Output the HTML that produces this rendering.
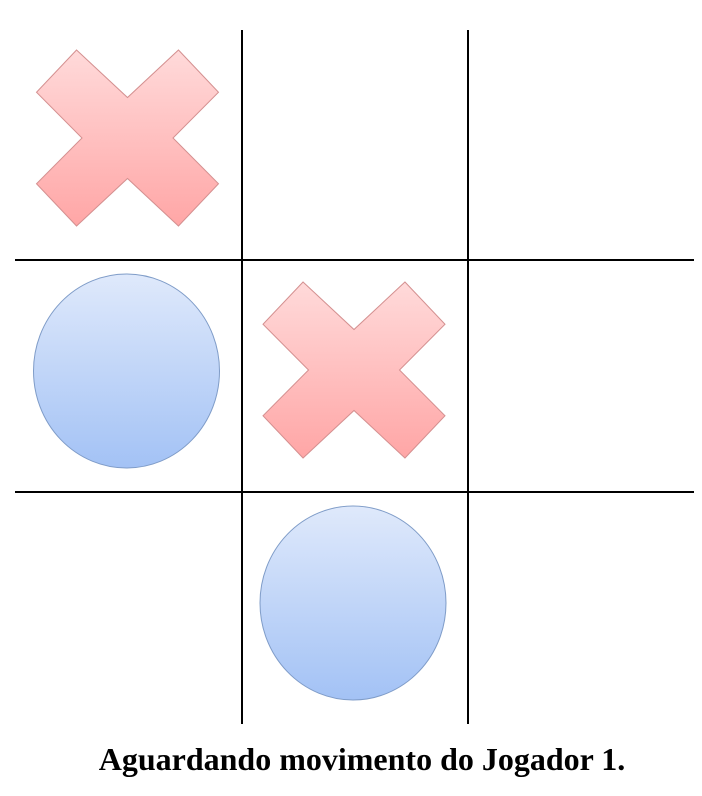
<!DOCTYPE html>
<html><head><meta charset="utf-8"><style>
html,body{margin:0;padding:0;background:#fff;width:702px;height:796px;overflow:hidden}
.t{position:absolute;left:0;width:724px;top:741px;text-align:center;font:bold 32px "Liberation Serif",serif;color:#000}
</style></head><body>
<svg width="702" height="796" style="position:absolute;left:0;top:0">
<defs>
<linearGradient id="gx" x1="0" y1="0" x2="0" y2="1"><stop offset="0" stop-color="#ffdada"/><stop offset="1" stop-color="#ffa6a6"/></linearGradient>
<linearGradient id="go" x1="0" y1="0" x2="0" y2="1"><stop offset="0" stop-color="#dfe9fb"/><stop offset="1" stop-color="#a3c2f5"/></linearGradient>
</defs>
<g stroke="#000" stroke-width="2">
<line x1="242" y1="30" x2="242" y2="724"/>
<line x1="468" y1="30" x2="468" y2="724"/>
<line x1="15" y1="260" x2="694" y2="260"/>
<line x1="15" y1="492" x2="694" y2="492"/>
</g>
<g id="marks"></g>
<rect x="15" y="30" width="227" height="230" fill="transparent"/>
<rect x="242" y="30" width="226" height="230" fill="transparent"/>
<rect x="468" y="30" width="226" height="230" fill="transparent"/>
<rect x="15" y="260" width="227" height="232" fill="transparent"/>
<rect x="242" y="260" width="226" height="232" fill="transparent"/>
<rect x="468" y="260" width="226" height="232" fill="transparent"/>
<rect x="15" y="492" width="227" height="232" fill="transparent"/>
<rect x="242" y="492" width="226" height="232" fill="transparent"/>
<rect x="468" y="492" width="226" height="232" fill="transparent"/>
</svg>
<div class="t">Aguardando movimento do Jogador 1.</div>
<script>
var board=['X','','','O','X','','','O',''];
var colX=[15,242,468], colW=[227,226,226], rowY=[30,260,492], rowH=[230,232,232];
var g=document.getElementById('marks'), ns='http://www.w3.org/2000/svg';
board.forEach(function(v,i){
  if(!v) return;
  var c=i%3,r=Math.floor(i/3);
  var cx=colX[c]+colW[c]/2-1, cy=rowY[r]+rowH[r]/2+(r==0?-7:-6);
  var el;
  if(v==='X'){
    var w=182,h=176,x0=cx-w/2,y0=cy-h/2,a=0.22,b=0.24,n=0.27,m=0.25;
    var p=[[a,0],[0.5,n],[1-a,0],[1,b],[1-m,0.5],[1,1-b],[1-a,1],[0.5,1-n],[a,1],[0,1-b],[m,0.5],[0,b]];
    el=document.createElementNS(ns,'polygon');
    el.setAttribute('points',p.map(function(q){return (x0+q[0]*w)+','+(y0+q[1]*h);}).join(' '));
    el.setAttribute('fill','url(#gx)');el.setAttribute('stroke','#d49090');el.setAttribute('stroke-width','1');
    
  } else {
    el=document.createElementNS(ns,'ellipse');
    el.setAttribute('cx',cx-1);el.setAttribute('cy',cy+1);el.setAttribute('rx',93);el.setAttribute('ry',97);
    el.setAttribute('fill','url(#go)');el.setAttribute('stroke','#7f9cc8');el.setAttribute('stroke-width','1');
    
  }
  
  g.appendChild(el);
});
</script>
</body></html>
